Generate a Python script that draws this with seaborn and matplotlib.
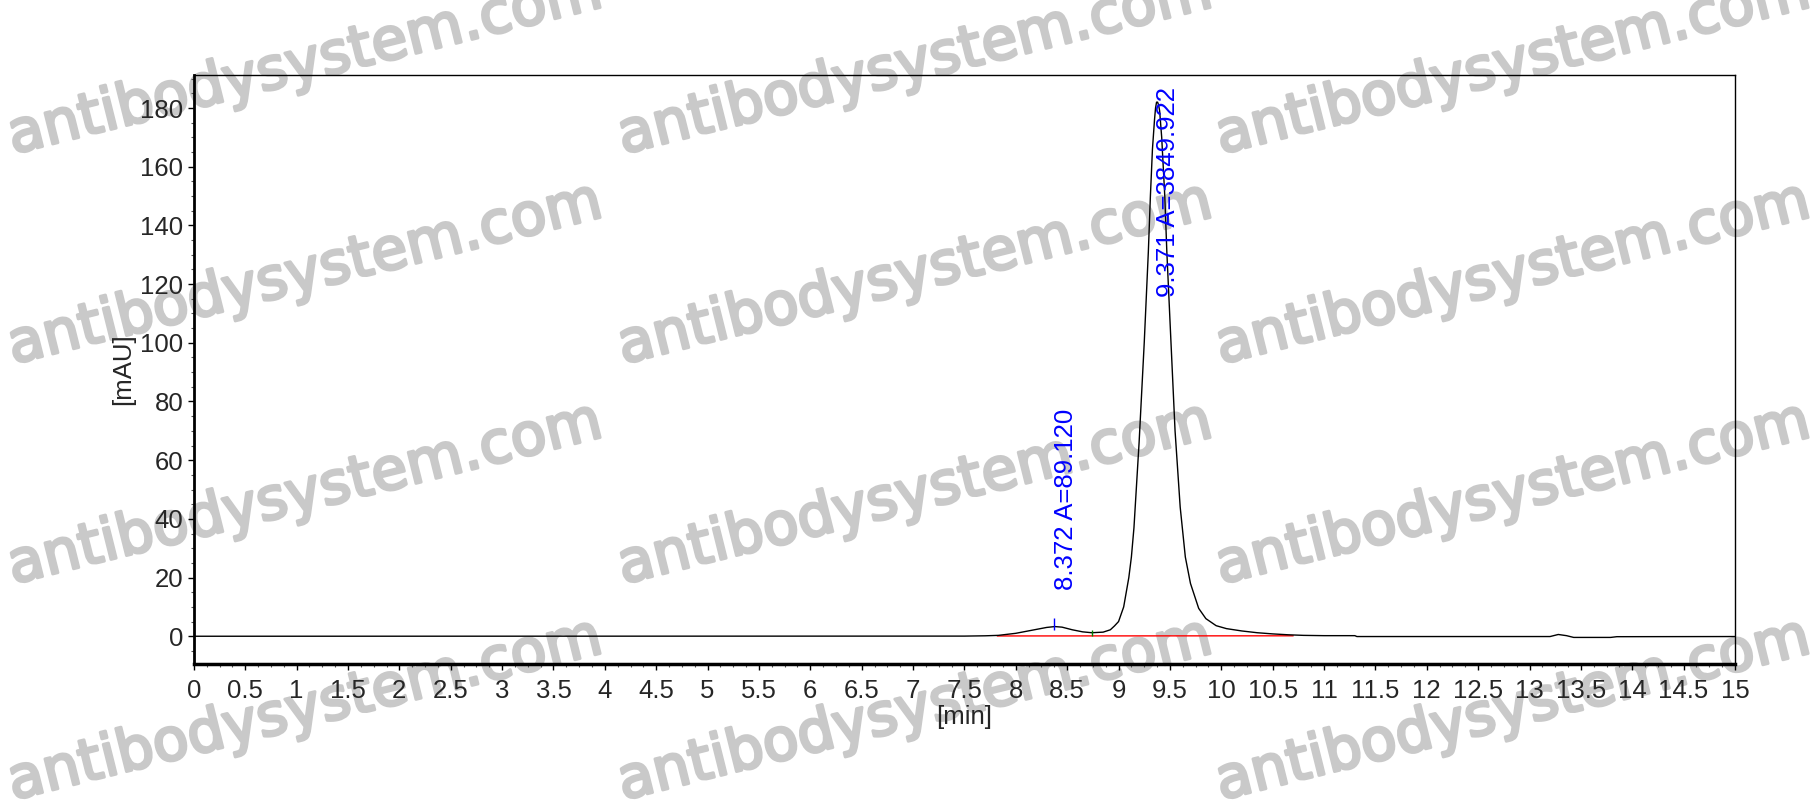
import numpy as np
import matplotlib
matplotlib.use("Agg")
import matplotlib.pyplot as plt
import matplotlib.patheffects as pe
from matplotlib.ticker import MultipleLocator, FuncFormatter
import seaborn as sns
import pandas as pd

# chromatogram trace (min, mAU)
time = [0.0, 7.5, 7.7, 7.83, 8.0, 8.15, 8.3, 8.38, 8.45, 8.55, 8.65, 8.74, 8.85,
        8.92, 8.96, 9.0, 9.05, 9.1, 9.125, 9.15, 9.2, 9.25, 9.29, 9.31, 9.33, 9.35,
        9.36, 9.37, 9.38, 9.39, 9.40, 9.42, 9.45, 9.47, 9.5, 9.55, 9.6, 9.65, 9.7,
        9.78, 9.85, 9.95, 10.05, 10.2, 10.35, 10.5, 10.65, 10.8, 11.0, 11.3, 11.32,
        13.2, 13.28, 13.36, 13.43, 13.79, 13.85, 15.0]
absorbance = [0.0, 0.05, 0.15, 0.3, 1.0, 2.0, 3.0, 3.3, 3.1, 2.2, 1.5, 1.2, 1.4,
              2.2, 3.5, 5.0, 10.0, 20.0, 27.0, 37.0, 66.0, 100.0, 131.0, 150.0, 166.0, 176.0,
              180.0, 182.0, 182.0, 181.0, 179.0, 170.0, 150.0, 131.0, 108.0, 70.0, 44.0, 27.0, 18.0,
              9.5, 6.0, 3.6, 2.6, 1.8, 1.2, 0.8, 0.5, 0.3, 0.2, 0.2, -0.1,
              -0.1, 0.6, 0.2, -0.4, -0.4, -0.15, -0.1]

# integration baseline
baseline_time = [7.82, 10.7]
baseline_value = [0.1, 0.15]

# peak table
peak_rt = [8.372, 9.371]
peak_height = [3.3, 182.0]
peak_area = [89.120, 3849.922]
valley_rt = [8.74]
valley_height = [1.2]

df = pd.DataFrame({"time": time, "mAU": absorbance})
base_df = pd.DataFrame({"time": baseline_time, "mAU": baseline_value})

sns.set_style("ticks")
plt.rcParams["font.family"] = ["Liberation Sans", "DejaVu Sans"]

fig = plt.figure(figsize=(18.12, 8.05), dpi=100)
ax = fig.add_axes([0.107, 0.175, 0.8505, 0.732])
ax.patch.set_facecolor("none")

sns.lineplot(data=df, x="time", y="mAU", ax=ax, color="black", linewidth=1.0,
             estimator=None, sort=False, zorder=3)
sns.lineplot(data=base_df, x="time", y="mAU", ax=ax, color="red", linewidth=1.0,
             estimator=None, zorder=2)

# peak and valley marks
ax.plot(peak_rt[:1], [peak_height[0] + 0.8], marker="|", color="blue",
        markersize=9, linestyle="none", zorder=4)
ax.plot(valley_rt, valley_height, marker="|", color="green",
        markersize=5, linestyle="none", zorder=4)

# peak labels
label_bottom = [15.7, 115.5]
for rt, area, yb in zip(peak_rt, peak_area, label_bottom):
    ax.text(rt + 0.115, yb, f"{rt:.3f} A={area:.3f}", rotation=90, color="blue",
            ha="center", va="bottom", fontsize=18.5, clip_on=False, zorder=5)

ax.set_xlim(0, 15)
ax.set_ylim(-9.5, 191.3)
ax.xaxis.set_major_locator(MultipleLocator(0.5))
ax.xaxis.set_minor_locator(MultipleLocator(0.125))
ax.yaxis.set_major_locator(MultipleLocator(20))
ax.yaxis.set_minor_locator(MultipleLocator(5))
ax.xaxis.set_major_formatter(FuncFormatter(lambda v, p: f"{v:g}"))
ax.set_yticks(np.arange(0, 181, 20))

ax.tick_params(axis="both", which="major", labelsize=18.5, length=4.5, width=1,
               color="black", direction="out", pad=3)
ax.tick_params(axis="both", which="minor", length=2.5, width=0.8, color="#555555")
ax.tick_params(axis="x", which="major", pad=6)

for side in ["top", "right"]:
    ax.spines[side].set_linewidth(1.0)
ax.spines["left"].set_linewidth(2.0)
ax.spines["bottom"].set_linewidth(2.5)
for s in ax.spines.values():
    s.set_color("black")

ax.set_xlabel("[min]", fontsize=18.5, labelpad=2)
ax.set_ylabel("[mAU]", fontsize=18.5, labelpad=4)

# watermark
wm_x = [305, 915, 1513]
wm_y = [64, 274, 494, 710]
for cx in wm_x:
    for cy in wm_y:
        fig.text(cx / 1812, 1 - cy / 805, "antibodysystem.com", rotation=14,
                 rotation_mode="anchor", ha="center", va="center",
                 fontsize=42, color="#c9c9c9", family="DejaVu Sans", zorder=-1,
                 path_effects=[pe.withStroke(linewidth=2.2, foreground="#c9c9c9")])

fig.savefig("out.png", dpi=100)
